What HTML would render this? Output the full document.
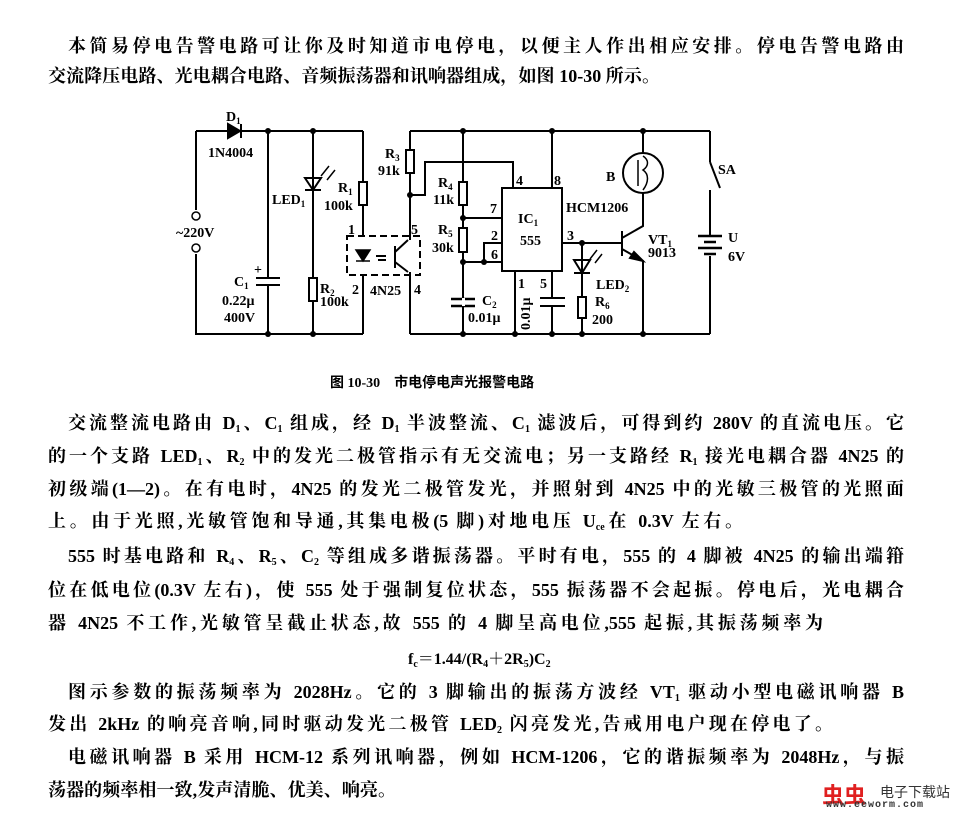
<!DOCTYPE html>
<html><head><meta charset="utf-8"><style>
body{margin:0;background:#fff;width:960px;height:813px;position:relative;overflow:hidden}
.l{position:absolute;font-family:"Liberation Serif","Noto Serif CJK SC",serif;font-size:18px;font-weight:bold;color:#000;white-space:nowrap;line-height:20px;text-align:justify;text-align-last:justify}
.n{text-align-last:left}
sub{font-size:10px;vertical-align:-3px;line-height:0}
svg text{font-family:"Liberation Serif",serif;font-size:14px;font-weight:bold;fill:#000}
</style></head><body>
<div class="l" style="left:68px;top:36px;width:836px">本简易停电告警电路可让你及时知道市电停电，以便主人作出相应安排。停电告警电路由</div>
<div class="l" style="left:48px;top:66px;width:612px">交流降压电路、光电耦合电路、音频振荡器和讯响器组成，如图 10-30 所示。</div>

<svg style="position:absolute;left:0;top:0" width="960" height="400" stroke="#000" stroke-width="2" fill="none">
<path d="M196 131H363M410 131H710M196 131V210M196 254V334H363M410 334H710"/>
<circle cx="196" cy="216" r="4" stroke-width="1.5"/><circle cx="196" cy="248" r="4" stroke-width="1.5"/>
<path d="M228 124V138L240 131Z M241 124V138" fill="#000"/>
<path d="M268 131V278M268 285V334M256 278H280M256 285H280"/>
<path d="M313 131V334M305 178H321L313 190Z M305 190H321"/>
<path d="M321 176L329 166M327 180L335 170" stroke-width="1.5"/>
<rect x="309" y="278" width="8" height="23" fill="#fff"/>
<path d="M363 131V237M363 275V334"/>
<rect x="359" y="182" width="8" height="23" fill="#fff"/>
<rect x="347" y="236" width="73" height="39" stroke-dasharray="7,4" stroke-width="2"/>
<path d="M356 250H370L363 261Z M356 261H370" fill="#000" stroke-width="1.5"/>
<path d="M376 256H386M378 260H386" stroke-width="2"/>
<path d="M395 246V268M395 252L408 240M395 262L408 272M410 131V240M410 272V334"/>
<rect x="406" y="150" width="8" height="23" fill="#fff"/>
<path d="M410 195H425V162H513V188"/>
<path d="M463 131V334M463 218H502M463 262H502M484 262V243H502"/>
<rect x="459" y="182" width="8" height="23" fill="#fff"/>
<rect x="459" y="228" width="8" height="24" fill="#fff"/>
<path d="M451 299H475M451 306H475" stroke-width="2.5"/>
<rect x="463" y="299" width="1" height="6" stroke="#fff"/>
<rect x="502" y="188" width="60" height="83"/>
<path d="M552 131V188M515 271V334M552 271V298M552 306V334M540 298H565M540 306H565"/>
<path d="M562 243H622M622 231V256M622 238L643 226V193M643 131V153M622 249L643 261V334"/>
<path d="M643 261L634 252L630 258Z" fill="#000"/>
<circle cx="643" cy="173" r="20"/>
<path d="M638 160V186M643 156C649 160 649 166 643 170C649 174 649 182 643 190" stroke-width="1.5"/>
<path d="M582 243V334M574 260H590L582 273Z M574 273H590"/>
<path d="M590 259L597 250M595 263L602 254" stroke-width="1.5"/>
<rect x="578" y="297" width="8" height="21" fill="#fff"/>
<path d="M710 131V162M710 162L720 188M710 190V236M710 256V334"/>
<path d="M698 236H722M704 242H716M698 248H722M704 254H716" stroke-width="2.5"/>
<g fill="#000" stroke="#000" stroke-width="0">
<circle cx="268" cy="131" r="3"/><circle cx="313" cy="131" r="3"/><circle cx="268" cy="334" r="3"/><circle cx="313" cy="334" r="3"/>
<circle cx="463" cy="131" r="3"/><circle cx="552" cy="131" r="3"/><circle cx="643" cy="131" r="3"/><circle cx="410" cy="195" r="3"/>
<circle cx="463" cy="218" r="3"/><circle cx="463" cy="262" r="3"/><circle cx="484" cy="262" r="3"/><circle cx="582" cy="243" r="3"/>
<circle cx="463" cy="334" r="3"/><circle cx="515" cy="334" r="3"/><circle cx="552" cy="334" r="3"/><circle cx="582" cy="334" r="3"/><circle cx="643" cy="334" r="3"/>
</g>
<g stroke="none">
<text x="226" y="121">D<tspan font-size="9" dy="3">1</tspan></text>
<text x="208" y="157">1N4004</text>
<text x="176" y="237">~220V</text>
<text x="234" y="286">C<tspan font-size="9" dy="3">1</tspan></text>
<text x="254" y="274" font-size="16">+</text>
<text x="222" y="305">0.22μ</text>
<text x="224" y="322">400V</text>
<text x="272" y="204">LED<tspan font-size="9" dy="3">1</tspan></text>
<text x="338" y="192">R<tspan font-size="9" dy="3">1</tspan></text>
<text x="324" y="210">100k</text>
<text x="320" y="293">R<tspan font-size="9" dy="3">2</tspan></text>
<text x="320" y="306">100k</text>
<text x="348" y="234">1</text><text x="352" y="294">2</text><text x="370" y="295">4N25</text>
<text x="414" y="294">4</text><text x="411" y="234">5</text>
<text x="385" y="158">R<tspan font-size="9" dy="3">3</tspan></text>
<text x="378" y="175">91k</text>
<text x="438" y="187">R<tspan font-size="9" dy="3">4</tspan></text>
<text x="433" y="204">11k</text>
<text x="438" y="234">R<tspan font-size="9" dy="3">5</tspan></text>
<text x="432" y="252">30k</text>
<text x="516" y="185">4</text><text x="554" y="185">8</text>
<text x="490" y="213">7</text><text x="491" y="240">2</text><text x="491" y="259">6</text>
<text x="518" y="223">IC<tspan font-size="9" dy="3">1</tspan></text>
<text x="520" y="245">555</text>
<text x="518" y="288">1</text><text x="540" y="288">5</text>
<text x="567" y="240">3</text>
<text x="482" y="305">C<tspan font-size="9" dy="3">2</tspan></text>
<text x="468" y="322">0.01μ</text>
<text transform="translate(530,330) rotate(-90)">0.01μ</text>
<text x="566" y="212">HCM1206</text>
<text x="606" y="181">B</text>
<text x="648" y="244">VT<tspan font-size="9" dy="3">1</tspan></text>
<text x="648" y="257">9013</text>
<text x="596" y="289">LED<tspan font-size="9" dy="3">2</tspan></text>
<text x="595" y="306">R<tspan font-size="9" dy="3">6</tspan></text>
<text x="592" y="324">200</text>
<text x="718" y="174">SA</text>
<text x="728" y="242">U</text>
<text x="728" y="261">6V</text>
<text x="330" y="387" font-size="13" style="font-family:'Liberation Serif','Noto Sans CJK SC',sans-serif">图 10-30　市电停电声光报警电路</text>
</g>
</svg>

<div class="l" style="left:68px;top:413px;width:836px">交流整流电路由 D<sub>1</sub>、C<sub>1</sub> 组成，经 D<sub>1</sub> 半波整流、C<sub>1</sub> 滤波后，可得到约 280V 的直流电压。它</div>
<div class="l" style="left:48px;top:446px;width:856px">的一个支路 LED<sub>1</sub>、R<sub>2</sub> 中的发光二极管指示有无交流电；另一支路经 R<sub>1</sub> 接光电耦合器 4N25 的</div>
<div class="l" style="left:48px;top:479px;width:856px">初级端(1—2)。在有电时，4N25 的发光二极管发光，并照射到 4N25 中的光敏三极管的光照面</div>
<div class="l" style="left:48px;top:511px;width:695px">上。由于光照,光敏管饱和导通,其集电极(5 脚)对地电压 U<sub>ce</sub>在 0.3V 左右。</div>
<div class="l" style="left:68px;top:546px;width:836px">555 时基电路和 R<sub>4</sub>、R<sub>5</sub>、C<sub>2</sub> 等组成多谐振荡器。平时有电，555 的 4 脚被 4N25 的输出端箝</div>
<div class="l" style="left:48px;top:580px;width:856px">位在低电位(0.3V 左右)，使 555 处于强制复位状态，555 振荡器不会起振。停电后，光电耦合</div>
<div class="l" style="left:48px;top:613px;width:775px">器 4N25 不工作,光敏管呈截止状态,故 555 的 4 脚呈高电位,555 起振,其振荡频率为</div>
<div class="l n" style="left:408px;top:650px;font-size:16px">f<sub>c</sub>＝1.44/(R<sub>4</sub>＋2R<sub>5</sub>)C<sub>2</sub></div>
<div class="l" style="left:68px;top:682px;width:836px">图示参数的振荡频率为 2028Hz。它的 3 脚输出的振荡方波经 VT<sub>1</sub> 驱动小型电磁讯响器 B</div>
<div class="l" style="left:48px;top:714px;width:785px">发出 2kHz 的响亮音响,同时驱动发光二极管 LED<sub>2</sub> 闪亮发光,告戒用电户现在停电了。</div>
<div class="l" style="left:68px;top:747px;width:836px">电磁讯响器 B 采用 HCM-12 系列讯响器，例如 HCM-1206，它的谐振频率为 2048Hz，与振</div>
<div class="l" style="left:48px;top:780px;width:348px">荡器的频率相一致,发声清脆、优美、响亮。</div>

<div style="position:absolute;left:822px;top:778px;font:bold 22px 'Noto Sans CJK SC',sans-serif;color:#e02020">虫虫</div>
<div style="position:absolute;left:880px;top:782px;font:14px 'Noto Sans CJK SC',sans-serif;color:#333">电子下载站</div>
<div style="position:absolute;left:826px;top:800px;font:bold 10px 'Liberation Mono',monospace;color:#333;letter-spacing:1px">www.eeworm.com</div>
</body></html>
